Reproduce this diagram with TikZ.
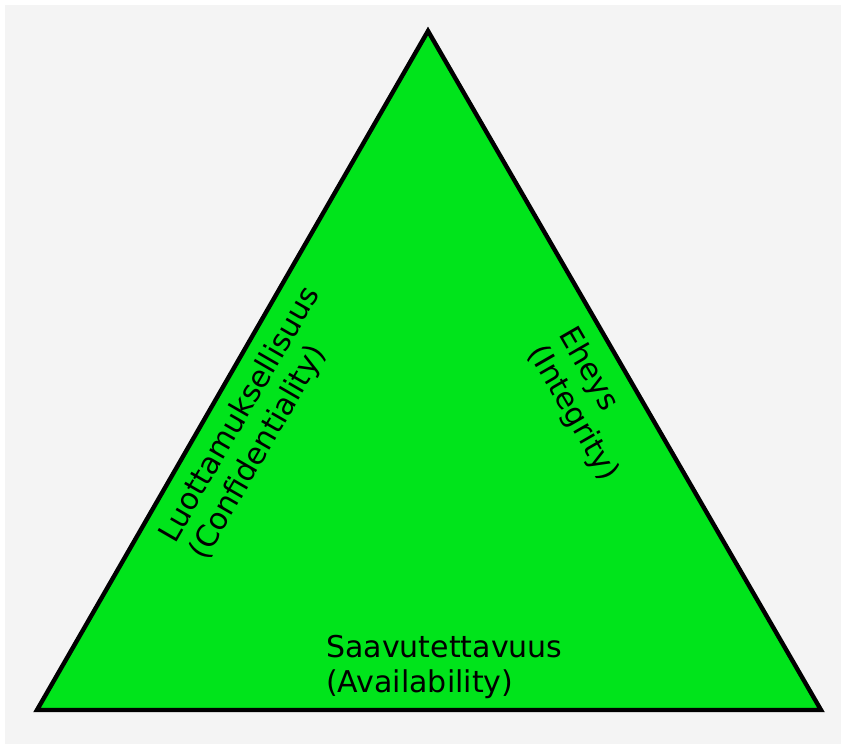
\documentclass[tikz,border=0pt]{standalone}
\usepackage{fontspec}
\setmainfont{DejaVu Sans}
\usepackage{xcolor}
\usetikzlibrary{positioning}

\definecolor{pagegray}{RGB}{244,244,244}
\definecolor{ciagreen}{RGB}{0,228,27}

\begin{document}
\begin{tikzpicture}[x=0.75pt, y=-0.75pt,
        label text/.style={inner sep=0pt, anchor=north west, align=left,
            font=\fontsize{22.5}{26.25}\selectfont}]
        \useasboundingbox[fill=white] (0, 0) rectangle (841, 744);
        \fill[pagegray] (5, 5) rectangle (841, 744);

        \coordinate (top) at (428, 31);
        \coordinate (left) at (37, 710);
        \coordinate (right) at (821, 710);

        \draw[fill=ciagreen, line width=3.3pt] (top) -- (right) -- (left) -- cycle;

        \node[label text, rotate=60] (conf) at (155, 533) {Luottamuksellisuus\\(Confidentiality)};
        \node[label text, rotate=-60] (integ) at (578, 323) {Eheys\\(Integrity)};
        \node[label text] (avail) at (326, 635) {Saavutettavuus\\(Availability)};
    \end{tikzpicture}
\end{document}
